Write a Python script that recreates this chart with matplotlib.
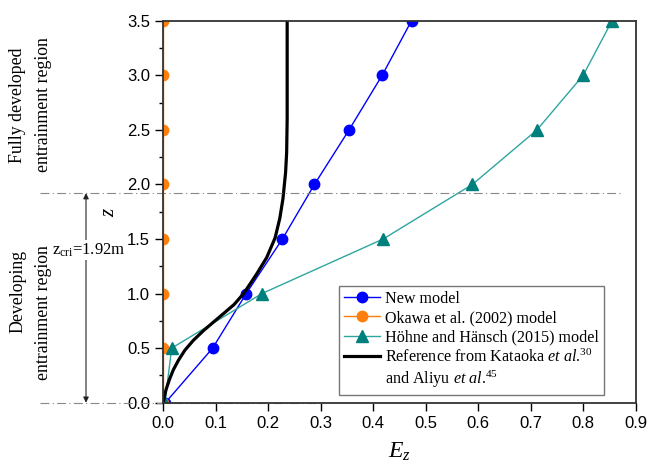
import matplotlib
matplotlib.use('Agg')
from matplotlib import pyplot as plt
from matplotlib import transforms
from matplotlib.ticker import MultipleLocator

plt.rcParams['font.family'] = 'Liberation Serif'
plt.rcParams['mathtext.fontset'] = 'custom'
plt.rcParams['mathtext.rm'] = 'Liberation Serif'
plt.rcParams['mathtext.it'] = 'Liberation Serif:italic'

# entrainment rate along the height
z_pts = [0.0, 0.5, 1.0, 1.5, 2.0, 2.5, 3.0, 3.5]
ez_new = [0.004, 0.094, 0.158, 0.227, 0.288, 0.354, 0.417, 0.473]
ez_okawa = [0.0, 0.0, 0.0, 0.0, 0.0, 0.0, 0.0, 0.0]
ez_hohne = [0.003, 0.016, 0.188, 0.419, 0.589, 0.712, 0.800, 0.855]

z_ref = [0.0, 0.025, 0.116, 0.21, 0.30, 0.39, 0.48, 0.57, 0.66, 0.74,
         0.83, 0.90, 1.0, 1.1, 1.18, 1.33, 1.51, 1.69, 1.87, 2.11, 2.29,
         2.6, 3.0, 3.5]
ez_ref = [0.0, 0.001, 0.005, 0.0115, 0.019, 0.029, 0.041, 0.057, 0.0765,
          0.096, 0.118, 0.135, 0.153, 0.167, 0.178, 0.197, 0.213, 0.222,
          0.228, 0.233, 0.235, 0.236, 0.236, 0.236]

z_cri = 1.92
x_end_cri = 0.876
x_end_base = 0.30

fig = plt.figure(figsize=(6.48, 4.70), dpi=100)
ax = fig.add_axes([0.252, 0.1432, 0.729, 0.8128])

ax.plot(ez_new, z_pts, color='#0000FF', lw=1.0, marker='o', ms=7.5,
        label='New model')
ax.plot(ez_okawa, z_pts, color='#FF7F0E', lw=1.0, marker='o', ms=7.5,
        label='Okawa et al. (2002) model')
ax.plot(ez_hohne, z_pts, color='#2FA5A0', lw=1.0, marker='^', ms=8,
        mfc='#00807C', mec='#00807C', label='Höhne and Hänsch (2015) model')
ax.plot(ez_ref, z_ref, color='black', lw=2.3,
        label=r'Reference from Kataoka $\mathit{et\ al}$.$^{30}$')
ax.plot([], [], color='none', label=r'and Aliyu $\mathit{et\ al}$.$^{45}$')

ax.set_xlim(0, 0.9)
ax.set_ylim(0, 3.5)
ax.xaxis.set_major_locator(MultipleLocator(0.1))
ax.yaxis.set_major_locator(MultipleLocator(0.5))
ax.yaxis.set_minor_locator(MultipleLocator(0.25))
ax.tick_params(which='major', direction='out', length=6, width=1.0,
               labelsize=12, labelfontfamily='Liberation Sans')
ax.tick_params(which='minor', direction='out', length=3, width=1.0)
for s in ax.spines.values():
    s.set_linewidth(1.3)
    s.set_color('#333333')

ax.set_xlabel(r'$E_z$', fontsize=17)
ax.xaxis.set_label_coords(0.5, -0.1)
ax.set_ylabel(r'$z$', fontsize=15)
ax.yaxis.set_label_coords(-0.094, 0.5)

# region boundaries
trans = transforms.blended_transform_factory(fig.transFigure, ax.transData)
x_left = 40 / 648
x0_fig = 0.252
ax_w = 0.729
ax.plot([x_left, x0_fig + ax_w * x_end_cri / 0.9], [z_cri, z_cri],
        transform=trans, color='#888888', lw=0.8,
        linestyle=(0, (8, 3, 1, 3)), clip_on=False)
ax.plot([x_left, x0_fig + ax_w * x_end_base / 0.9], [0, 0],
        transform=trans, color='#888888', lw=0.8,
        linestyle=(0, (8, 3, 1, 3)), clip_on=False)

ax.annotate('', xy=(86 / 648, z_cri), xycoords=trans,
            xytext=(86 / 648, 0), textcoords=trans,
            arrowprops=dict(arrowstyle='<|-|>', color='#222222', lw=0.8,
                            mutation_scale=8, shrinkA=0, shrinkB=0))
fig.text(89 / 648, 1 - 250 / 470, r'$\mathrm{z_{cri}}$=1.92m', fontsize=12,
         ha='center', va='center',
         bbox=dict(facecolor='white', edgecolor='none', pad=1))

# region names, one rotated line each
region_kw = dict(rotation=90, ha='center', va='center', fontsize=12.8)
fig.text(18 / 648, 1 - 105 / 470, 'Fully developed', **region_kw)
fig.text(43 / 648, 1 - 105 / 470, 'entrainment region', **region_kw)
fig.text(18 / 648, 1 - 291 / 470, 'Developing', **region_kw)
fig.text(43 / 648, 1 - 313 / 470, 'entrainment region', **region_kw)

ax.legend(loc='lower right', bbox_to_anchor=(0.933, 0.02), fontsize=11.6,
          frameon=True, fancybox=False, edgecolor='#777777', framealpha=1,
          handlelength=2.2, labelspacing=0.2, borderpad=0.3,
          handletextpad=0.35, borderaxespad=0)

fig.savefig('out.png', dpi=100)
